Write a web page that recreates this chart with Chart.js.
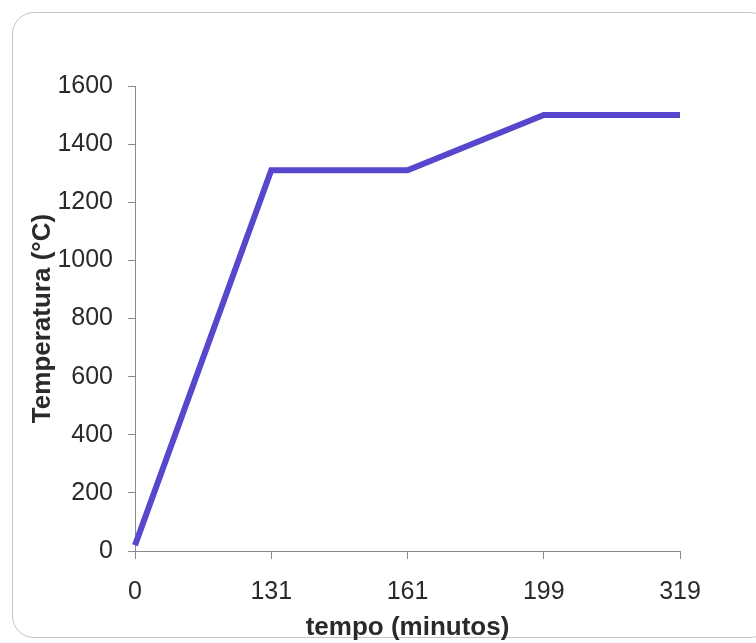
<!DOCTYPE html>
<html>
<head>
<meta charset="utf-8">
<script src="https://cdn.jsdelivr.net/npm/chart.js@4/dist/chart.umd.min.js"></script>
<style>
    html, body { margin: 0; padding: 0; background: #fff; }
    #wrap { position: relative; width: 756px; height: 643px; overflow: hidden; }
    #frame {
        position: absolute; left: 12px; top: 12px; width: 760px; height: 626px;
        border: 1px solid #c4c4c4; border-radius: 22px; box-sizing: border-box;
    }
    canvas { position: absolute; left: 0; top: 0; }
</style>
</head>
<body>
<div id="wrap">
    <div id="frame"></div>
    <canvas id="chart" width="756" height="643"></canvas>
</div>
<script>
// tempo (minutos) vs temperatura (°C)
const timeLabels = ['0', '131', '161', '199', '319'];
const temperatures = [20, 1310, 1310, 1500, 1500];
const yTicks = [0, 200, 400, 600, 800, 1000, 1200, 1400, 1600];

const textColor = '#2a2a2a';
const axisColor = '#8a8a8a';

const ctx = document.getElementById('chart').getContext('2d');
new Chart(ctx, {
    type: 'line',
    data: {
        labels: timeLabels,
        datasets: [{
            data: temperatures,
            borderColor: '#5647cc',
            borderWidth: 6,
            pointRadius: 0,
            tension: 0,
            fill: false
        }]
    },
    options: {
        responsive: false,
        animation: false,
        layout: { padding: { left: 0, right: 76, top: 86, bottom: 0 } },
        plugins: { legend: { display: false }, tooltip: { enabled: false } },
        scales: {
            x: {
                type: 'category',
                offset: false,
                border: { display: true, color: axisColor, width: 1 },
                grid: { drawOnChartArea: false, drawTicks: true, tickLength: 8, color: axisColor },
                ticks: { color: textColor, font: { family: 'Liberation Sans', size: 25 }, padding: 18, maxRotation: 0 },
                title: {
                    display: true, text: 'tempo (minutos)', color: textColor,
                    font: { family: 'Liberation Sans', size: 26, weight: 'bold' },
                    padding: { top: 0, bottom: 0 }
                },
                afterFit: s => { s.height = 92; }
            },
            y: {
                min: 0, max: 1600,
                afterBuildTicks: s => { s.ticks = yTicks.map(v => ({ value: v })); },
                border: { display: true, color: axisColor, width: 1 },
                grid: { drawOnChartArea: false, drawTicks: true, tickLength: 7, color: axisColor },
                ticks: {
                    color: textColor, font: { family: 'Liberation Sans', size: 25 }, padding: 15,
                    callback: v => String(v)
                },
                title: {
                    display: true, text: 'Temperatura (°C)', color: textColor,
                    font: { family: 'Liberation Sans', size: 26, weight: 'bold' },
                    padding: { top: 27, bottom: 0 }
                },
                afterFit: s => { s.width = 135; }
            }
        }
    }
});
</script>
</body>
</html>
